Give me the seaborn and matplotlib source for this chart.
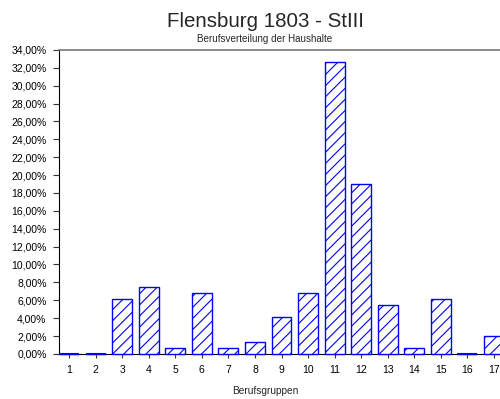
import matplotlib
matplotlib.use("Agg")
import matplotlib.pyplot as plt
import seaborn as sns
import pandas as pd
from matplotlib.ticker import FuncFormatter

# data: share of households per occupation group (percent)
gruppen = [str(i) for i in range(1, 18)]
anteil = [0.0, 0.0, 6.12, 7.48, 0.68, 6.80, 0.68, 1.36, 4.08, 6.80,
          32.65, 19.05, 5.44, 0.68, 6.12, 0.0, 2.04]
y_ticks = list(range(0, 35, 2))

sns.set_style("white")
plt.rcParams['font.family'] = ['Liberation Sans', 'DejaVu Sans']
plt.rcParams['hatch.color'] = 'blue'
plt.rcParams['hatch.linewidth'] = 0.8

df = pd.DataFrame({'Berufsgruppe': gruppen, 'Anteil': anteil})

fig = plt.figure(figsize=(5, 3.99), dpi=100)
ax = fig.add_axes([0.118, 0.113, 0.89, 0.762])

sns.barplot(data=df, x='Berufsgruppe', y='Anteil', order=gruppen,
            color='white', edgecolor='blue', linewidth=1.0, width=0.75,
            saturation=1, ax=ax)
for p in ax.patches:
    p.set_hatch('///')
    p.set_facecolor('white')
    p.set_edgecolor('blue')
    p.set_zorder(3)
    p.set_clip_on(False)

# empty groups still show a blue line on the baseline
for i, v in enumerate(anteil):
    if v == 0:
        ax.plot([i - 0.375, i + 0.375], [0, 0], color='blue', lw=1.5,
                zorder=4, clip_on=False, solid_capstyle='butt')

ax.set_xlim(-0.38, 16.38)
ax.set_ylim(0, 34)
ax.set_yticks(y_ticks)
ax.yaxis.set_major_formatter(FuncFormatter(lambda v, _: f"{v:.2f}%".replace('.', ',')))
ax.tick_params(axis='both', labelsize=7.5, length=4, width=0.8, colors='#333333',
               direction='out', left=True, bottom=True, pad=5)
ax.tick_params(axis='x', length=3, pad=5)
for lbl in ax.get_xticklabels() + ax.get_yticklabels():
    lbl.set_color('black')

ax.spines['left'].set_color('black')
ax.spines['bottom'].set_color('black')
ax.spines['top'].set_color('#777777')
ax.spines['top'].set_linewidth(1.2)
ax.spines['right'].set_visible(False)

ax.set_xlabel('')
ax.set_ylabel('')
fig.text(0.53, 0.019, 'Berufsgruppen', ha='center', va='center', fontsize=7.3)

fig.text(0.53, 0.945, 'Flensburg 1803 - StIII', ha='center', va='center', fontsize=14.8)
fig.text(0.53, 0.903, 'Berufsverteilung der Haushalte', ha='center', va='center', fontsize=7.1)

plt.savefig('out.png', dpi=100)
